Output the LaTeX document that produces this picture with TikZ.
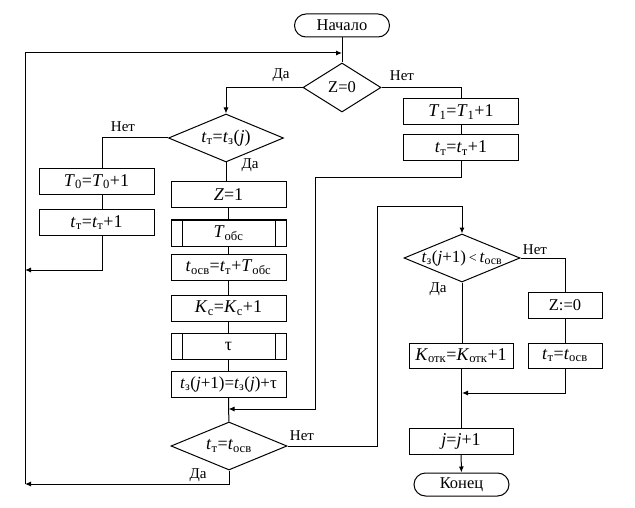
\documentclass[tikz,border=0pt]{standalone}
\usepackage{fontspec}
\setmainfont{Liberation Serif}
\usetikzlibrary{shapes.geometric,arrows.meta}
\newcommand\lo[1]{\textsubscript{\upshape #1}}
\newcommand\iv[1]{\textit{#1}}
\begin{document}
\begin{tikzpicture}[x=1pt,y=-1pt,
  line width=1pt,
  every node/.style={inner sep=0pt},
  arr/.style={-{Latex[length=6pt,width=5pt]}},
  box/.style={draw,rectangle,minimum width=115pt,minimum height=26pt,
    font=\fontsize{18}{20}\selectfont},
  proc/.style={box,path picture={
    \draw ([xshift=11pt]path picture bounding box.north west) -- ([xshift=11pt]path picture bounding box.south west);
    \draw ([xshift=-11pt]path picture bounding box.north east) -- ([xshift=-11pt]path picture bounding box.south east);}},
  term/.style={draw,rectangle,rounded corners=11.5pt,minimum width=95pt,minimum height=23pt,
    font=\fontsize{16.5}{18}\selectfont},
  dia/.style={draw,diamond},
  dtext/.style={font=\fontsize{18}{20}\selectfont},
  lbl/.style={font=\fontsize{15}{17}\selectfont}]
\useasboundingbox (0,0) rectangle (635,508);

% start and first test
\node[term] (start) at (342,25.5) {Начало};
\node[dia,minimum width=78pt,minimum height=49pt,label={[name=d1t,dtext,font=\fontsize{16.5}{18}\selectfont]center:Z=0}] (d1) at (342,87.5) {};

% branch Z<>0
\node[box] (a1) at (461,112) {\iv{T}\lo{1}=\iv{T}\lo{1}+1};
\node[box] (tt1) at (461,148) {\iv{t}\lo{т}=\iv{t}\lo{т}+1};

% branch Z=0
\node[dia,minimum width=115pt,minimum height=48pt,label={[name=d2t,dtext]center:\iv{t}\lo{т}=\iv{t}\lo{з}(\iv{j})}] (d2) at (226,138) {};
\node[box] (t0) at (96.5,181.5) {\iv{T}\lo{0}=\iv{T}\lo{0}+1};
\node[box] (tt0) at (96.5,222.5) {\iv{t}\lo{т}=\iv{t}\lo{т}+1};

% main column
\node[box] (z1) at (228.5,194.5) {\iv{Z}=1};
\node[proc] (tobs) at (228.5,233) {\iv{T}\lo{обс}};
\node[box] (tosv) at (228.5,267.5) {\iv{t}\lo{осв}=\iv{t}\lo{т}+\iv{T}\lo{обс}};
\node[box] (kc) at (228.5,308) {\iv{K}\lo{с}=\iv{K}\lo{с}+1};
\node[proc] (tau) at (228.5,346) {τ};
\node[box,font=\fontsize{17}{19}\selectfont] (tz) at (228.5,384) {\iv{t}\lo{з}(\iv{j}+1)=\iv{t}\lo{з}(\iv{j})+τ};
\node[dia,minimum width=116pt,minimum height=48pt,label={[name=d4t,dtext]center:\iv{t}\lo{т}=\iv{t}\lo{осв}}] (d4) at (229,446) {};

% right part
\node[dia,minimum width=116pt,minimum height=48pt,label={[name=d3t,dtext,font=\fontsize{17}{19}\selectfont]center:\iv{t}\lo{з}(\iv{j}+1)\,{\fontsize{14}{16}\selectfont<}\,\iv{t}\lo{осв}}] (d3) at (462,258) {};
\node[box,minimum width=74pt,font=\fontsize{16.5}{18}\selectfont] (zz) at (565,305) {Z:=0};
\node[box,minimum width=74pt,minimum height=25pt] (tte) at (565,355.5) {\iv{t}\lo{т}=\iv{t}\lo{осв}};
\node[box,minimum width=104pt,minimum height=25pt] (kotk) at (461,355.5) {\iv{K}\lo{отк}=\iv{K}\lo{отк}+1};
\node[box,minimum width=104pt] (jj) at (461,441) {\iv{j}=\iv{j}+1};
\node[term] (end) at (461.5,484.5) {Конец};

% routing points
\coordinate (j1) at (342,53);
\coordinate (m2) at (25,270);
\coordinate (m3) at (25,484);
\coordinate (k) at (102,0);
\coordinate (c1) at (315,178);
\coordinate (m1) at (228.5,409);
\coordinate (c2) at (377,207);
\coordinate (m5) at (462,393);

% connectors
\draw (start) -- (d1);
\draw[arr] (d1.west) -| (d2.north);
\draw (d1.east) -| (a1.north);
\draw (a1) -- (tt1);
\draw[arr] (tt1.south) |- (c1) |- (m1);
\draw (d2.west) -| (k |- t0.north);
\draw (t0.south -| k) -- (k |- tt0.north);
\draw[arr] (tt0.south -| k) |- (m2);
\draw (d2.south) -- (d2.south |- z1.north);
\draw (z1) -- (tobs);
\draw (tobs) -- (tosv);
\draw (tosv) -- (kc);
\draw (kc) -- (tau);
\draw (tau) -- (tz);
\draw (tz) -- (d4);
\draw[arr] (d4.south) |- (m3);
\draw[arr] (m3) |- (j1);
\draw[arr] (d4.east) -| (c2) -| (d3.north);
\draw (d3.east) -| (zz.north);
\draw (zz) -- (tte);
\draw (d3.south) -- (d3.south |- kotk.north);
\draw (kotk) -- (jj);
\draw[arr] (tte.south) |- (m5);
\draw[arr] (jj) -- (end);

% branch labels
\node[lbl] (l1) at (281,75) {Да};
\node[lbl] (l2) at (402,76) {Нет};
\node[lbl] (l3) at (123,127) {Нет};
\node[lbl] (l4) at (250,165) {Да};
\node[lbl] (l5) at (302,436) {Нет};
\node[lbl] (l6) at (198,475) {Да};
\node[lbl] (l7) at (535,250) {Нет};
\node[lbl] (l8) at (438,289) {Да};
\end{tikzpicture}
\end{document}
